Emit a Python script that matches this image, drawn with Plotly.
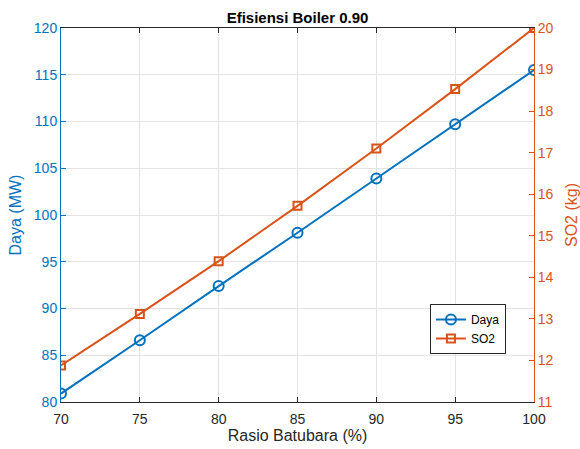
import plotly.graph_objects as go

rasio = [70, 75, 80, 85, 90, 95, 100]
daya = [80.9, 86.6, 92.4, 98.1, 103.9, 109.7, 115.5]
so2 = [11.88, 13.12, 14.39, 15.72, 17.10, 18.53, 20.0]

blue = "#0072BD"
orange = "#D95319"
font = "Liberation Sans, Arial, sans-serif"

fig = go.Figure()
fig.add_trace(go.Scatter(
    x=rasio, y=daya, name="Daya", mode="lines+markers",
    line=dict(color=blue, width=2),
    marker=dict(symbol="circle-open", size=10, color=blue, line=dict(width=2)),
    yaxis="y"))
fig.add_trace(go.Scatter(
    x=rasio, y=so2, name="SO2", mode="lines+markers",
    line=dict(color=orange, width=2),
    marker=dict(symbol="square-open", size=8, color=orange, line=dict(width=2)),
    yaxis="y2"))

fig.update_layout(
    width=580, height=449,
    margin=dict(l=61, r=46, t=28, b=47, autoexpand=False),
    paper_bgcolor="white", plot_bgcolor="white",
    font=dict(family=font, size=14, color="#262626"),
    title=dict(text="<b>Efisiensi Boiler 0.90</b>", x=0.5, xanchor="center",
               xref="paper", y=1, yref="paper", yanchor="bottom", pad=dict(b=5),
               font=dict(size=15, color="#000000")),
    xaxis=dict(range=[70, 100], tickvals=rasio, ticks="inside", ticklen=5,
               tickcolor="#262626", showline=True, linecolor="#262626", linewidth=1,
               mirror="ticks", showgrid=True, gridcolor="#E3E3E3", zeroline=False,
               automargin=False, ticklabelstandoff=4,
               title=dict(text="Rasio Batubara (%)", standoff=4,
                          font=dict(size=16, color="#262626")),
               tickfont=dict(size=14, color="#262626")),
    yaxis=dict(range=[80, 120], tickvals=[80, 85, 90, 95, 100, 105, 110, 115, 120],
               ticks="inside", ticklen=5, tickcolor=blue, showline=True,
               linecolor=blue, linewidth=1, showgrid=True, gridcolor="#E3E3E3",
               zeroline=False, automargin=False, tickfont=dict(size=14, color=blue),
               title=dict(text="Daya (MW)", standoff=8, font=dict(size=16, color=blue))),
    yaxis2=dict(range=[11, 20], tickvals=list(range(11, 21)), overlaying="y",
                side="right", ticks="inside", ticklen=5, tickcolor=orange,
                showline=True, linecolor=orange, linewidth=1, showgrid=False,
                zeroline=False, automargin=False, tickfont=dict(size=14, color=orange),
                title=dict(text="SO2 (kg)", standoff=14, font=dict(size=16, color=orange))),
    legend=dict(x=0.78, y=0.262, xanchor="left", yanchor="top",
                bgcolor="white", bordercolor="#262626", borderwidth=1,
                font=dict(size=12, color="#000000"),
                tracegroupgap=0),
    showlegend=True,
)

fig.write_html("out.html", post_script="document.body.style.margin='0';",
               config={"displayModeBar": False})
